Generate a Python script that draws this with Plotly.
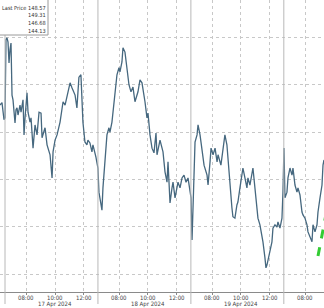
import plotly.graph_objects as go

# Time axis: trading hours since 17 Apr 2024 06:30 (each session 06:30-13:00 = 6.5 h)
t_hours = [-0.35, -0.21, -0.07, 0.00, 0.07, 0.14, 0.21, 0.28, 0.35, 0.42, 0.49, 0.56, 0.70, 0.77, 0.84,
           0.91, 1.05, 1.12, 1.26, 1.33, 1.40, 1.54, 1.61, 1.75, 1.82, 1.96, 2.10, 2.24, 2.38, 2.52,
           2.59, 2.80, 2.94, 3.15, 3.29, 3.36, 3.50, 3.64, 3.85, 4.06, 4.20, 4.34, 4.55, 4.69, 4.90,
           5.03, 5.17, 5.31, 5.45, 5.59, 5.73, 5.80, 5.94, 6.08, 6.15, 6.36, 6.50, 6.57, 6.71, 6.78,
           6.85, 6.99, 7.13, 7.27, 7.34, 7.48, 7.55, 7.69, 7.83, 7.97, 8.04, 8.18, 8.25, 8.39, 8.53,
           8.67, 8.81, 8.95, 9.09, 9.30, 9.44, 9.58, 9.79, 9.93, 10.00, 10.14, 10.28, 10.42, 10.56, 10.63,
           10.84, 10.98, 11.05, 11.19, 11.33, 11.40, 11.54, 11.68, 11.75, 11.89, 12.03, 12.10, 12.24, 12.38, 12.52,
           12.66, 12.80, 12.94, 13.01, 13.08, 13.15, 13.22, 13.29, 13.43, 13.50, 13.64, 13.78, 13.92, 14.13, 14.20,
           14.34, 14.41, 14.55, 14.69, 14.83, 14.90, 15.10, 15.24, 15.38, 15.52, 15.59, 15.73, 15.87, 15.94, 16.08,
           16.22, 16.29, 16.43, 16.57, 16.64, 16.78, 16.92, 16.99, 17.13, 17.34, 17.48, 17.62, 17.69, 17.83, 17.97,
           18.04, 18.18, 18.25, 18.32, 18.46, 18.67, 18.74, 18.88, 19.02, 19.09, 19.23, 19.37, 19.44, 19.51, 19.58,
           19.72, 19.79, 19.93, 20.07, 20.14, 20.28, 20.42, 20.49, 20.63, 20.77, 20.84, 20.98, 21.12, 21.19, 21.33,
           21.47, 21.54, 21.68, 21.82, 21.89, 22.03, 22.17, 22.24, 22.31]

price = [147.57, 147.62, 147.26, 147.30, 148.95, 148.99, 148.90, 148.46, 148.74, 148.88, 147.78, 147.68, 147.19, 147.47, 147.51,
         147.36, 147.57, 147.42, 147.68, 146.94, 147.30, 147.83, 147.42, 147.21, 147.30, 146.66, 147.15, 146.94, 147.42, 147.40,
         146.88, 147.09, 146.73, 146.52, 146.03, 146.58, 146.83, 146.94, 147.21, 147.64, 147.57, 147.74, 148.04, 147.93, 147.78,
         147.51, 148.16, 148.21, 147.21, 146.79, 146.73, 146.83, 146.77, 146.58, 146.73, 146.47, 146.24, 145.73, 145.46, 145.35,
         145.82, 146.30, 146.94, 147.09, 147.00, 147.21, 147.42, 147.85, 148.21, 148.36, 148.27, 148.48, 148.78, 148.69, 148.27,
         148.00, 147.85, 147.95, 147.64, 147.85, 148.10, 148.04, 147.64, 147.30, 147.40, 146.94, 146.66, 146.56, 146.98, 146.52,
         146.83, 146.69, 146.58, 146.16, 145.94, 146.37, 145.50, 145.82, 145.94, 145.61, 145.88, 145.94, 145.82, 146.03, 146.09,
         145.94, 146.03, 145.73, 145.61, 144.72, 145.46, 145.88, 146.79, 146.94, 147.15, 146.94, 146.58, 146.30, 146.09, 145.88,
         146.37, 146.66, 146.52, 146.66, 146.37, 146.52, 146.30, 146.58, 146.94, 146.73, 146.45, 145.82, 145.40, 145.21, 145.18,
         145.46, 145.52, 145.82, 146.16, 146.24, 146.03, 145.82, 146.03, 145.88, 146.24, 145.82, 145.31, 145.18, 145.04, 144.82,
         144.68, 144.34, 144.13, 144.19, 144.40, 144.68, 144.97, 145.04, 144.99, 145.10, 144.97, 145.18, 145.73, 146.66, 145.61,
         145.73, 146.03, 146.24, 146.09, 146.24, 145.88, 145.73, 145.82, 145.67, 145.31, 145.25, 145.18, 145.04, 144.89, 144.76,
         144.68, 145.04, 144.89, 145.04, 145.31, 145.61, 145.88, 146.30, 146.41]

trend_x = [21.89, 22.45]
trend_y = [144.38, 145.26]

session_starts = [0.0, 6.5, 13.0, 19.5]
day_labels = ["17 Apr 2024", "18 Apr 2024", "19 Apr 2024", "22 Apr 2024"]
hour_labels = ["08:00", "10:00", "12:00"]
hour_offsets = [1.5, 3.5, 5.5]
price_levels = [144, 145, 146, 147, 148, 149]

legend_label = "Last Price"
legend_values = ["148.57", "149.31", "146.68", "144.13"]

W, H = 324, 308
MB = 16
PH = H - MB
X0, X1 = -0.35, 22.31

tickvals, ticktext = [], []
for s in session_starts:
    for off, lab in zip(hour_offsets, hour_labels):
        tickvals.append(s + off)
        ticktext.append(lab)

fig = go.Figure()
fig.add_trace(go.Scatter(x=t_hours, y=price, mode="lines",
                         line=dict(color="#46687f", width=1.3), hoverinfo="skip"))
fig.add_trace(go.Scatter(x=trend_x, y=trend_y, mode="lines",
                         line=dict(color="#33cc33", width=3, dash="dash"), hoverinfo="skip"))

FONT = "Liberation Sans Narrow, DejaVu Sans Condensed, Liberation Sans, sans-serif"
LBL = dict(size=6, color="#444", family=FONT)
LEG = dict(size=5.6, color="#333", family=FONT)

shapes = []
for s in session_starts:
    shapes.append(dict(type="line", xref="x", yref="paper", x0=s, x1=s, y0=-12 / PH, y1=1,
                       line=dict(color="#b8b8b8", width=1)))
# legend box
shapes.append(dict(type="rect", xref="paper", yref="paper", x0=-10 / W, x1=48 / W,
                   y0=1 - 35 / PH, y1=1 + 2 / PH, fillcolor="white",
                   line=dict(color="#9a9a9a", width=1), layer="above"))

annotations = []
rows_y = [7.5, 15.2, 22.9, 30.6]
annotations.append(dict(xref="paper", yref="paper", x=26.5 / W, y=1 - rows_y[0] / PH, text=legend_label,
                        showarrow=False, xanchor="right", yanchor="middle", font=LEG, borderpad=0))
for v, ry in zip(legend_values, rows_y):
    annotations.append(dict(xref="paper", yref="paper", x=47 / W, y=1 - ry / PH, text=v,
                            showarrow=False, xanchor="right", yanchor="middle", font=LEG, borderpad=0))
# hour tick labels and day labels
for tv, tt in zip(tickvals, ticktext):
    if X0 <= tv <= X1:
        annotations.append(dict(xref="x", yref="paper", x=tv, y=-5.5 / PH, text=tt,
                                showarrow=False, xanchor="center", yanchor="middle",
                                font=LBL, borderpad=0))
for s, lab in zip(session_starts, day_labels):
    annotations.append(dict(xref="x", yref="paper", x=s + 3.5, y=-12.5 / PH, text=lab,
                            showarrow=False, xanchor="center", yanchor="middle",
                            font=LBL, borderpad=0))

fig.update_layout(
    width=W, height=H,
    margin=dict(l=0, r=0, t=0, b=MB),
    paper_bgcolor="white", plot_bgcolor="white",
    showlegend=False,
    shapes=shapes, annotations=annotations,
    xaxis=dict(range=[X0, X1], tickvals=tickvals, showticklabels=False,
               showgrid=True, gridcolor="#c8c8c8", griddash="dot", gridwidth=1,
               showline=True, linecolor="#8a8a8a", linewidth=1,
               ticks="outside", ticklen=2, tickcolor="#8a8a8a", zeroline=False),
    yaxis=dict(range=[143.62, 149.79], tickvals=price_levels, showticklabels=False,
               showgrid=True, gridcolor="#c8c8c8", griddash="dot", gridwidth=1,
               zeroline=False, showline=False),
)

fig.write_html("out.html")
